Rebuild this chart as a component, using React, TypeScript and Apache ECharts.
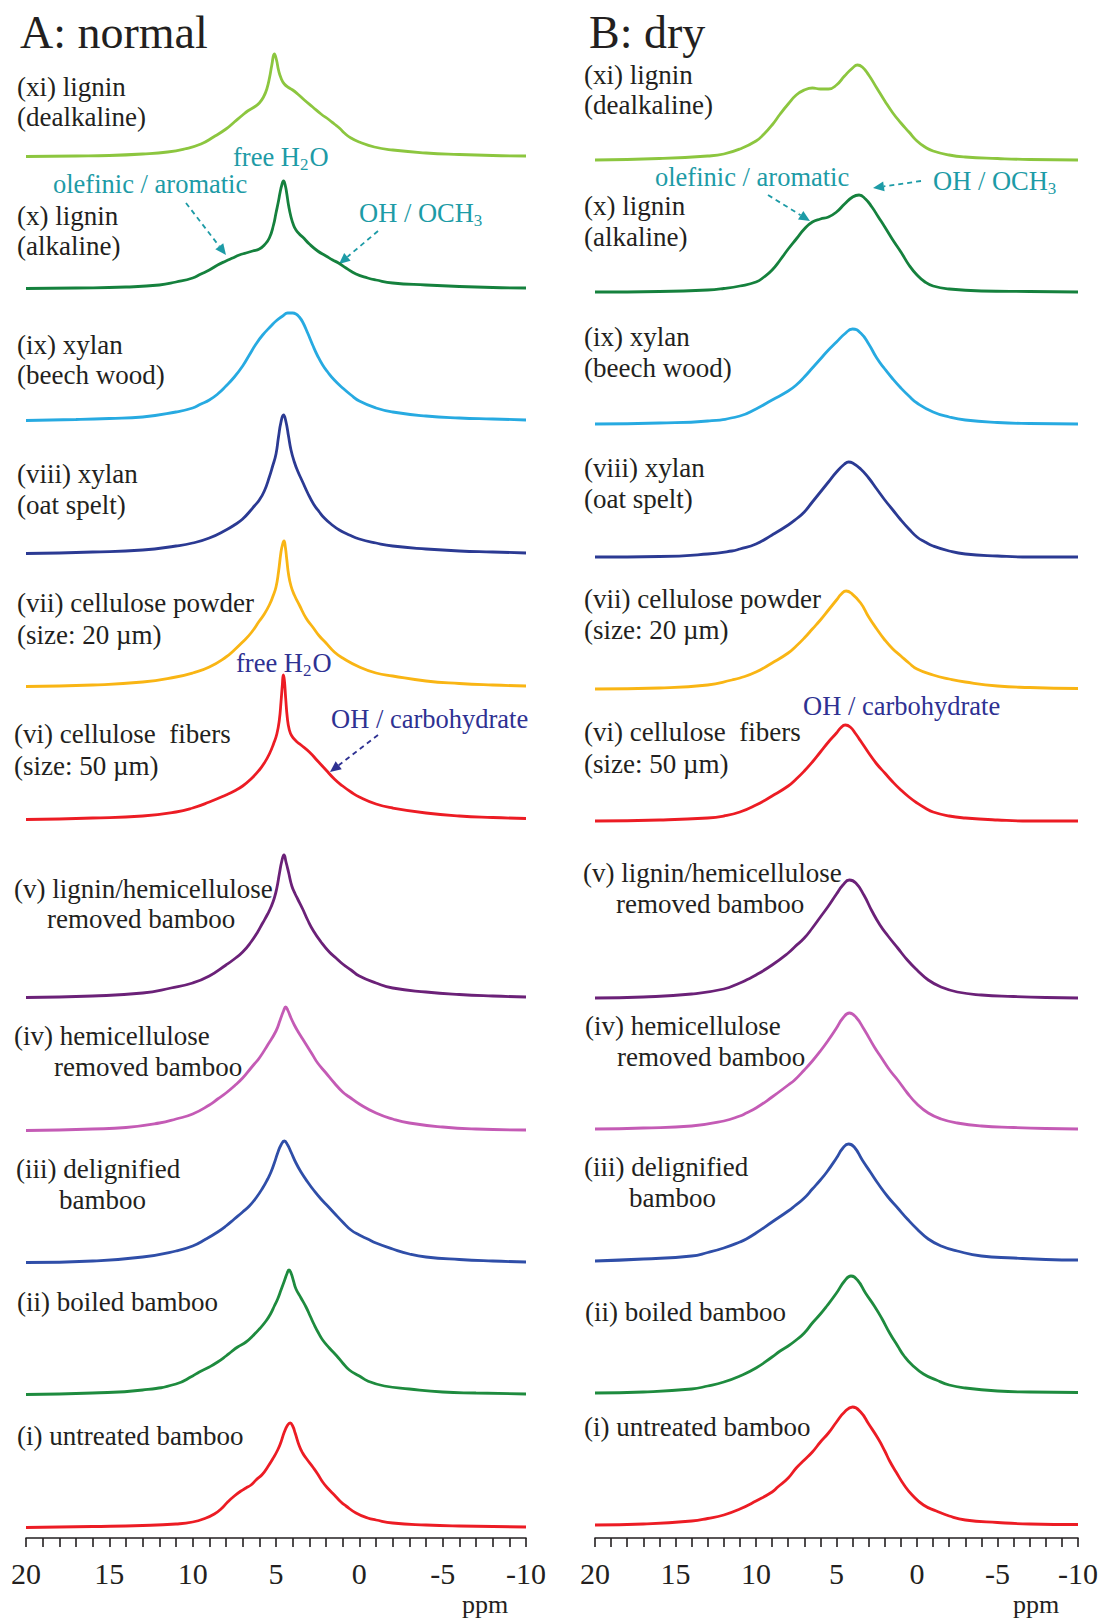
import { useEffect, useRef } from "react";
import * as echarts from "echarts";

type Pt = [number, number];

// Chemical-shift axis (ppm), drawn high-to-low
const PPM_MIN = -10;
const PPM_MAX = 20;
const PPM_STEP = 5;

// ---------- A: normal — 1H NMR spectra, [ppm, intensity] ----------
const normalXi: Pt[] = [[20,0.5],[17,1],[15,1.5],[13,3],[11.5,5],[10.5,8],[9.5,13],[8.75,20],[8,28],[7.5,35],[7,42],[6.7,46],[6.3,50],[6,54],[5.75,60],[5.55,68],[5.38,80],[5.25,92],[5.1,103],[4.97,97],[4.85,87],[4.7,79],[4.5,73],[4.2,69],[4,67],[3.7,63],[3.3,57],[2.8,50],[2.3,43],[1.8,37],[1.5,33],[1.2,29],[0.9,24],[0.5,19],[0,15],[-0.9,10],[-2,7],[-4,4],[-6,2.5],[-8,1.5],[-10,1]];
const normalX: Pt[] = [[20,0.5],[17,1],[14,2],[12,4],[11,7],[10,11],[9.5,15],[9,19],[8.5,24],[8,28],[7.6,31],[7.2,34],[6.8,36],[6.4,38],[6,40],[5.7,44],[5.4,51],[5.15,64],[5,76],[4.85,88],[4.75,97],[4.65,104],[4.55,108],[4.45,104],[4.35,95],[4.25,84],[4.1,72],[3.95,64],[3.8,59],[3.6,55],[3.4,52],[3,45],[2.5,38],[2,33],[1.6,29],[1.25,26],[0.8,21],[0.2,15],[-0.5,11],[-1,9],[-2,6],[-4,4],[-6,2.5],[-8,1.5],[-10,1]];
const normalIx: Pt[] = [[20,0.5],[17,1.5],[15,2.5],[13,4],[11,9],[10,13],[9.5,17],[9,21],[8.5,27],[8,35],[7.5,44],[7,55],[6.6,66],[6.2,77],[5.8,86],[5.3,95],[5,100],[4.6,105],[4.3,108],[4,108],[3.8,107],[3.6,104],[3.4,99],[3.1,88],[2.8,76],[2.5,65],[2.2,56],[1.9,49],[1.5,41],[1,33],[0.5,26],[0,20],[-1,13],[-2,9],[-4,5],[-6,3],[-8,2],[-10,1]];
const normalViii: Pt[] = [[20,0.5],[16,2],[13,4],[11,8],[10,11],[9,16],[8,24],[7.5,29],[7,35],[6.5,44],[6.3,48],[6,54],[5.7,63],[5.4,77],[5.2,88],[5,100],[4.85,117],[4.7,132],[4.55,139],[4.4,132],[4.25,118],[4.1,104],[3.9,92],[3.7,83],[3.4,72],[3.1,61],[2.75,50],[2.4,42],[2.1,36],[1.7,30],[1.2,24],[0.6,19],[0,15],[-1,11],[-2,8],[-4,5],[-6,3],[-8,2],[-10,1]];
const normalVii: Pt[] = [[20,0.5],[16,2],[13,5],[11,10],[10,14],[9,20],[8,30],[7.5,37],[7,45],[6.5,54],[6,66],[5.7,73],[5.4,82],[5.2,90],[5,100],[4.85,115],[4.7,135],[4.6,143],[4.52,146],[4.44,140],[4.35,127],[4.25,113],[4.1,101],[3.9,92],[3.6,82],[3.2,69],[2.8,60],[2.4,51],[2,44],[1.5,35],[1,29],[0,20],[-1,14],[-2,11],[-4,6],[-6,3.5],[-8,2],[-10,1]];
const normalVi: Pt[] = [[20,0.5],[16,2],[13,4],[11,8],[10,12],[9,18],[8,25],[7.5,29],[7,34],[6.5,41],[6,50],[5.7,57],[5.4,66],[5.15,76],[4.95,86],[4.8,100],[4.7,118],[4.62,135],[4.56,145],[4.5,140],[4.42,122],[4.32,102],[4.2,90],[4.05,84],[3.8,79],[3.5,75],[3,68],[2.5,59],[2,50],[1.5,41],[1,34],[0.5,28],[0,23],[-1,16],[-2,12],[-4,7],[-6,4],[-8,2.5],[-10,1.5]];
const normalV: Pt[] = [[20,0.5],[16,2],[13,5],[11.3,10],[10,15],[9,22],[8,33],[7.5,39],[7,46],[6.5,56],[6.1,66],[5.8,75],[5.5,84],[5.3,91],[5.1,100],[4.95,110],[4.8,124],[4.65,137],[4.52,143],[4.4,136],[4.25,126],[4.05,112],[3.85,104],[3.7,99],[3.4,89],[3.1,78],[2.75,67],[2.3,56],[1.8,46],[1.4,40],[1,34],[0.5,28],[0,22],[-1,15],[-2,10],[-4,6],[-6,3.5],[-8,2],[-10,1]];
const normalIv: Pt[] = [[20,0.5],[16,2],[14,3.5],[12,8],[11,12],[10,17],[9,26],[8.5,32],[8,38],[7.5,45],[7,53],[6.5,63],[6.3,67],[6,73],[5.5,86],[5,100],[4.75,111],[4.55,120],[4.42,124],[4.3,121],[4.1,113],[3.9,106],[3.7,100],[3.4,92],[3.1,84],[2.8,76],[2.5,68],[2,58],[1.5,48],[1,39],[0.6,34],[0,27],[-1,18],[-2,12],[-3,8],[-5,4],[-7,2],[-10,1]];
const normalIii: Pt[] = [[20,0.5],[16,2],[13,6],[11,12],[10,17],[9.2,24],[8.5,31],[8,37],[7.5,44],[7,51],[6.6,57],[6.2,65],[5.8,75],[5.5,84],[5.3,91],[5.1,100],[4.9,110],[4.7,118],[4.5,122],[4.3,118],[4.1,111],[3.8,100],[3.5,91],[3.1,81],[2.7,72],[2.3,64],[1.9,57],[1.4,48],[1,41],[0.5,33],[0,28],[-0.5,24],[-1,20],[-2,14],[-3,9],[-4,6],[-6,3.5],[-8,2],[-10,1]];
const normalIi: Pt[] = [[20,0.5],[16,2],[13,5],[11,11],[10,19],[9.6,23],[9,28],[8.5,33],[8,39],[7.7,43],[7.3,48],[6.8,53],[6.4,59],[6,66],[5.6,74],[5.3,82],[5.1,89],[4.9,96],[4.7,105],[4.5,114],[4.35,121],[4.22,125],[4.1,122],[3.95,114],[3.8,106],[3.5,97],[3.2,88],[2.95,79],[2.7,70],[2.45,62],[2.2,55],[1.8,47],[1.35,39],[1,32],[0.6,25],[0,19],[-0.5,14],[-1.5,9],[-3,6],[-5,3],[-7,2],[-10,1]];
const normalI: Pt[] = [[20,0.5],[16,1.5],[13,2.5],[11,4],[10,6],[9.2,10],[8.7,14],[8.3,19],[7.9,26],[7.5,32],[7.1,37],[6.8,40],[6.5,43],[6.2,48],[5.8,54],[5.5,61],[5.2,69],[4.9,78],[4.7,86],[4.5,96],[4.3,103],[4.15,105],[4,102],[3.85,95],[3.6,82],[3.4,75],[3.2,70],[2.75,60],[2.5,54],[2.2,46],[1.85,39],[1.5,33],[1.1,26],[0.8,22],[0.2,15],[-0.5,10],[-1,8],[-2,5],[-4,3],[-6,2],[-10,1]];

// ---------- B: dry — 1H NMR spectra, [ppm, intensity] ----------
const dryXi: Pt[] = [[20,0],[16,1.5],[13,4],[12,6],[11,11],[10,19],[9.5,26],[9,35],[8.5,46],[8,56],[7.5,65],[7,70],[6.5,72],[6,71],[5.5,71],[5,75],[4.5,84],[4,92],[3.7,95],[3.4,93],[3,85],[2.5,72],[2,59],[1.5,47],[1,37],[0.5,28],[0,19],[-0.5,13],[-1,9],[-2,5],[-3,3],[-5,1.5],[-7,0.5],[-10,0]];
const dryX: Pt[] = [[20,0],[16,0.5],[13,2],[12,3.5],[11,6],[10,10],[9.5,15],[9,22],[8.5,32],[8,43],[7.5,53],[7,63],[6.5,70],[6,73],[5.5,75],[5,80],[4.5,88],[4,95],[3.6,97],[3.2,93],[2.8,85],[2.4,75],[2,65],[1.5,52],[1,40],[0.5,27],[0,17],[-0.5,10],[-1,6],[-2,3],[-4,1],[-7,0.5],[-10,0]];
const dryIx: Pt[] = [[20,0],[16,1],[13,3],[11,8],[10,15],[9,24],[8,33],[7.5,39],[7,47],[6.5,56],[6,65],[5.5,74],[5,82],[4.5,90],[4,95],[3.5,91],[3,80],[2.5,66],[2,55],[1.5,45],[1,36],[0.5,28],[0,21],[-1,12],[-2,7],[-3,4],[-5,1.5],[-7,0.5],[-10,0]];
const dryViii: Pt[] = [[20,0],[16,0.5],[13,3],[11.5,6],[11,8],[10,13],[9,22],[8,32],[7.5,38],[7,45],[6.5,55],[6,65],[5.5,75],[5,85],[4.5,93],[4.25,95],[4,94],[3.5,88],[3,79],[2.5,68],[2,57],[1.5,47],[1,37],[0.5,28],[0,20],[-0.5,15],[-1,11],[-2,6],[-3,3],[-5,1],[-7,0],[-10,0]];
const dryVii: Pt[] = [[20,0],[16,1],[13,4],[11.5,9],[11,11],[10,17],[9,26],[8,36],[7.5,43],[7,51],[6.5,60],[6,69],[5.5,79],[5,89],[4.7,95],[4.4,98],[4.1,96],[3.5,86],[3,72],[2.5,60],[2,49],[1.5,40],[1,33],[0.5,26],[0,20],[-1,14],[-2,10],[-3,7],[-5,3],[-7,1.5],[-10,0.5]];
const dryVi: Pt[] = [[20,0],[16,1],[13,3],[12,5],[11,9],[10,16],[9,25],[8,35],[7.5,42],[7,50],[6.5,59],[6,69],[5.5,79],[5,88],[4.75,93],[4.45,96],[4.15,94],[3.8,87],[3.5,80],[3,68],[2.5,57],[2,48],[1.5,39],[1,31],[0.5,24],[0,18],[-0.5,13],[-1,9],[-2,5],[-3,3],[-5,1],[-7,0],[-10,0]];
const dryV: Pt[] = [[20,0],[17,1],[14,4],[12,9],[11,15],[10.6,18],[10,23],[9,33],[8,45],[7.6,51],[7,60],[6.5,70],[6,81],[5.5,92],[5,104],[4.6,113],[4.2,118],[3.8,115],[3.3,103],[2.8,87],[2.3,73],[1.8,62],[1.2,50],[0.6,38],[0,28],[-0.7,18],[-1.5,11],[-2.5,6],[-4,3],[-6,1.5],[-8,0.5],[-10,0]];
const dryIv: Pt[] = [[20,0],[17,1],[14,3],[12,8],[11,13],[10.6,16],[10,21],[9,32],[8,44],[7.6,49],[7,59],[6.5,68],[6,78],[5.5,89],[5,101],[4.6,111],[4.2,116],[3.8,112],[3.3,100],[2.65,82],[2.2,71],[1.7,59],[1.2,49],[0.6,36],[0,25],[-0.7,16],[-1.5,10],[-2.5,6],[-4,3],[-6,1.5],[-8,0.5],[-10,0]];
const dryIii: Pt[] = [[20,0],[17,2],[14,5],[13,8.5],[12,13],[11,19],[10.6,22],[10,28],[9,39],[8,50],[7.6,55],[7,63],[6.5,72],[6,81],[5.6,89],[5,103],[4.6,113],[4.25,117],[3.9,114],[3.4,101],[2.9,89],[2.4,77],[1.8,64],[1.2,53],[0.6,42],[0,32],[-0.7,22],[-1.5,15],[-2.5,10],[-4,5],[-6,3],[-8,1.5],[-10,1]];
const dryIi: Pt[] = [[20,0],[17,1],[14,4],[13,7],[12,11],[11,17],[10,25],[9,36],[8.5,42],[8,47],[7.5,53],[7,60],[6.5,70],[6,79],[5.6,87],[5,100],[4.5,112],[4.1,117],[3.7,113],[3.2,100],[2.65,87],[2.2,75],[1.7,60],[1.2,47],[0.8,37],[0.3,28],[-0.4,19],[-1.2,13],[-2,8],[-3,5],[-5,2],[-7,1],[-10,0.5]];
const dryI: Pt[] = [[20,0],[17,1],[14,4],[13,6.5],[12,10],[11,16],[10,24],[9,33],[8.65,38],[8,47],[7.5,57],[7,65],[6.5,73],[6,83],[5.5,92],[5,103],[4.5,113],[4,118],[3.5,113],[3,101],[2.4,86],[2,74],[1.7,64],[1.3,53],[0.8,40],[0.3,30],[-0.4,20],[-1.2,14],[-2,9],[-3,5],[-5,2.5],[-7,1],[-10,0.5]];

const normalSpectra: Pt[][] = [normalXi, normalX, normalIx, normalViii, normalVii, normalVi, normalV, normalIv, normalIii, normalIi, normalI];
const drySpectra: Pt[][] = [dryXi, dryX, dryIx, dryViii, dryVii, dryVi, dryV, dryIv, dryIii, dryIi, dryI];

// Sample names, top to bottom
const sampleLabels: string[][] = [
  ["(xi) lignin", "(dealkaline)"],
  ["(x) lignin", "(alkaline)"],
  ["(ix) xylan", "(beech wood)"],
  ["(viii) xylan", "(oat spelt)"],
  ["(vii) cellulose powder", "(size: 20 µm)"],
  ["(vi) cellulose  fibers", "(size: 50 µm)"],
  ["(v) lignin/hemicellulose", "removed bamboo"],
  ["(iv) hemicellulose", "removed bamboo"],
  ["(iii) delignified", "bamboo"],
  ["(ii) boiled bamboo"],
  ["(i) untreated bamboo"],
];

// ---------- styling & layout ----------
const SERIF = '"Liberation Serif", "Times New Roman", serif';
const INK = "#231f20";
const TEAL = "#1d9ba6";
const NAVY = "#2e3192";
const curveColors = ["#8cc63f", "#15813d", "#27aae1", "#2b3a93", "#f9b514", "#ec1c24", "#6b2178", "#c45bb5", "#2f4ea8", "#1e8b3e", "#ec1c24"];

const Y_MIN = -10;
const Y_MAX = 150;
const LABEL_SIZE = 27;
const NOTE_SIZE = 26.5;

const panels = [
  {
    title: "A: normal", titleX: 20, left: 26, width: 500,
    baselines: [157, 289, 421, 554, 687, 820, 998, 1131, 1263, 1395, 1528],
    spectra: normalSpectra,
    labelPos: [
      [[17, 87], [17, 117]], [[17, 216], [17, 246]], [[17, 345], [17, 375]], [[17, 474], [17, 505]],
      [[17, 603], [17, 635]], [[14, 734], [14, 766]], [[14, 889], [47, 919]], [[14, 1036], [54, 1067]],
      [[16, 1169], [59, 1200]], [[17, 1302]], [[17, 1436]],
    ],
    ppmX: 485,
  },
  {
    title: "B: dry", titleX: 589, left: 595, width: 483,
    baselines: [160, 292, 424, 557, 689, 821, 998, 1129, 1261, 1393, 1525],
    spectra: drySpectra,
    labelPos: [
      [[584, 75], [584, 105]], [[584, 206], [584, 237]], [[584, 337], [584, 368]], [[584, 468], [584, 499]],
      [[584, 599], [584, 630]], [[584, 732], [584, 764]], [[583, 873], [616, 904]], [[585, 1026], [617, 1057]],
      [[584, 1167], [629, 1198]], [[585, 1312]], [[584, 1427]],
    ],
    ppmX: 1036,
  },
];
const AXIS_Y = 1538;

let measureCtx: CanvasRenderingContext2D | null = null;
function textWidth(text: string, size: number) {
  if (!measureCtx) measureCtx = document.createElement("canvas").getContext("2d");
  if (!measureCtx) return text.length * size * 0.5;
  measureCtx.font = `${size}px ${SERIF}`;
  return measureCtx.measureText(text).width;
}

function txt(x: number, y: number, text: string, size: number, color: string, align = "left") {
  return {
    type: "text",
    x,
    y,
    silent: true,
    style: {
      text,
      fontSize: size,
      fontFamily: SERIF,
      fill: color,
      align,
      verticalAlign: "middle",
      textAlign: align,
      textVerticalAlign: "middle",
    },
  };
}

// Text with subscripted digits, e.g. H2O / OCH3: [text, isSubscript][]
function formula(x: number, y: number, parts: [string, boolean][], size: number, color: string) {
  const out: any[] = [];
  const subSize = Math.round(size * 0.66);
  let cx = x;
  parts.forEach(([t, sub]) => {
    const s = sub ? subSize : size;
    out.push(txt(cx, sub ? y + 7 : y, t, s, color));
    cx += textWidth(t, s) + (sub ? 1 : 0);
  });
  return out;
}

function dashedArrow(x1: number, y1: number, x2: number, y2: number, color: string) {
  const dx = x2 - x1, dy = y2 - y1;
  const len = Math.hypot(dx, dy);
  const ux = dx / len, uy = dy / len;
  const hl = 11, hw = 5;
  const bx = x2 - ux * hl, by = y2 - uy * hl;
  return [
    { type: "line", silent: true, shape: { x1, y1, x2: bx, y2: by }, style: { stroke: color, lineWidth: 1.8, lineDash: [5, 4] } },
    { type: "polygon", silent: true, shape: { points: [[x2, y2], [bx - uy * hw, by + ux * hw], [bx + uy * hw, by - ux * hw]] }, style: { fill: color } },
  ];
}

function buildOption() {
  const grid: any[] = [];
  const xAxis: any[] = [];
  const yAxis: any[] = [];
  const series: any[] = [];
  const graphic: any[] = [];

  panels.forEach((p) => {
    p.spectra.forEach((data, k) => {
      const gi = grid.length;
      grid.push({ left: p.left, width: p.width, top: p.baselines[k] - Y_MAX, height: Y_MAX - Y_MIN });
      xAxis.push({ gridIndex: gi, type: "value", min: PPM_MIN, max: PPM_MAX, inverse: true, show: false });
      yAxis.push({ gridIndex: gi, type: "value", min: Y_MIN, max: Y_MAX, show: false });
      series.push({
        type: "line",
        xAxisIndex: gi,
        yAxisIndex: gi,
        data,
        smooth: 0.5,
        symbol: "none",
        silent: true,
        lineStyle: { color: curveColors[k], width: 2.8, join: "round" },
      });
      sampleLabels[k].forEach((line, j) => {
        const [lx, ly] = p.labelPos[k][j];
        graphic.push(txt(lx, ly, line, LABEL_SIZE, INK));
      });
    });

    // ppm scale
    const ai = grid.length;
    grid.push({ left: p.left, width: p.width, top: AXIS_Y - 10, height: 10 });
    xAxis.push({
      gridIndex: ai,
      type: "value",
      min: PPM_MIN,
      max: PPM_MAX,
      interval: PPM_STEP,
      inverse: true,
      position: "bottom",
      axisLine: { show: true, lineStyle: { color: INK, width: 1.6 } },
      axisTick: { show: true, length: 9, lineStyle: { color: INK, width: 1.6 } },
      minorTick: { show: true, splitNumber: 5, length: 9, lineStyle: { color: INK, width: 1.6 } },
      splitLine: { show: false },
      minorSplitLine: { show: false },
      axisLabel: { fontSize: 30, fontFamily: SERIF, color: INK, margin: 20, showMinLabel: true, showMaxLabel: true },
    });
    yAxis.push({ gridIndex: ai, type: "value", min: 0, max: 1, show: false });

    graphic.push(txt(p.titleX, 32, p.title, 46, INK));
    graphic.push(txt(p.ppmX, 1604, "ppm", 26, INK, "center"));
  });

  // peak assignments
  graphic.push(...formula(233, 157, [["free H", false], ["2", true], ["O", false]], NOTE_SIZE, TEAL));
  graphic.push(txt(53, 184, "olefinic / aromatic", NOTE_SIZE, TEAL));
  graphic.push(...formula(359, 213, [["OH / OCH", false], ["3", true]], NOTE_SIZE, TEAL));
  graphic.push(...dashedArrow(186, 203, 226, 255, TEAL));
  graphic.push(...dashedArrow(378, 231, 339, 264, TEAL));

  graphic.push(...formula(236, 663, [["free H", false], ["2", true], ["O", false]], NOTE_SIZE, NAVY));
  graphic.push(txt(331, 719, "OH / carbohydrate", NOTE_SIZE, NAVY));
  graphic.push(...dashedArrow(378, 735, 330, 772, NAVY));

  graphic.push(txt(655, 177, "olefinic / aromatic", NOTE_SIZE, TEAL));
  graphic.push(...formula(933, 181, [["OH / OCH", false], ["3", true]], NOTE_SIZE, TEAL));
  graphic.push(...dashedArrow(768, 195, 810, 221, TEAL));
  graphic.push(...dashedArrow(921, 181, 873, 188, TEAL));

  graphic.push(txt(803, 706, "OH / carbohydrate", NOTE_SIZE, NAVY));

  return {
    animation: false,
    backgroundColor: "#ffffff",
    grid,
    xAxis,
    yAxis,
    series,
    graphic: { elements: graphic },
  };
}

export default function App() {
  const ref = useRef<HTMLDivElement>(null);

  useEffect(() => {
    document.body.style.margin = "0";
    if (!ref.current) return;
    const chart = echarts.init(ref.current, undefined, { renderer: "svg" });
    chart.setOption(buildOption() as any);
    return () => chart.dispose();
  }, []);

  return <div ref={ref} style={{ width: 1102, height: 1618 }} />;
}
